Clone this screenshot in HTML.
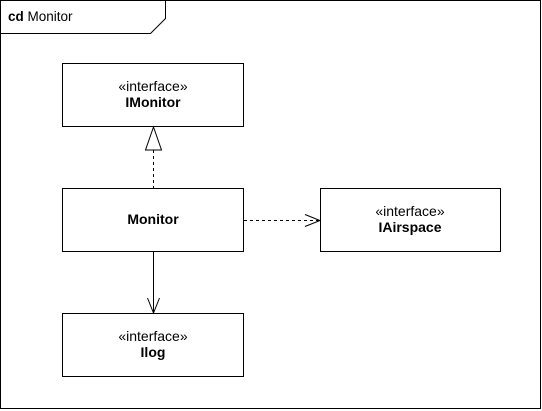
<!DOCTYPE html>
<html><head><meta charset="utf-8"><style>
html,body{margin:0;padding:0;background:#fff;}
svg{display:block;}
text{font-family:"Liberation Sans",Arial,sans-serif;font-size:14px;fill:#000;}
</style></head><body>
<svg width="542" height="411" viewBox="0 0 542 411" xmlns="http://www.w3.org/2000/svg">
<g fill="none" stroke="#000" stroke-width="1">
<rect x="0.5" y="0.5" width="540" height="408"/>
<path d="M0.5 33.5 H150.5 L165.5 18.5 V0.5"/>
<rect x="62.5" y="63.5" width="181" height="63"/>
<rect x="62.5" y="188.5" width="181" height="63"/>
<rect x="320.5" y="188.5" width="180" height="63"/>
<rect x="62.5" y="313.5" width="181" height="63"/>
<path d="M153.5 150 V188" stroke-dasharray="3,3"/>
<path d="M153.5 127 L161.5 150 H145.5 Z" fill="#fff"/>
<path d="M244 220.5 H319" stroke-dasharray="3,3"/>
<path d="M305 214.5 L320 220.5 L305 226.5"/>
<path d="M153.5 252 V312"/>
<path d="M147.5 298 L153.5 313 L159.5 298"/>
</g>
<text x="8" y="21" style="font-size:13.5px"><tspan font-weight="bold">cd</tspan> Monitor</text>
<g text-anchor="middle">
<text x="153" y="91">«interface»</text>
<text x="153" y="107" font-weight="bold">IMonitor</text>
<text x="153" y="224" font-weight="bold">Monitor</text>
<text x="410" y="216">«interface»</text>
<text x="410" y="232" font-weight="bold">IAirspace</text>
<text x="153" y="341">«interface»</text>
<text x="153" y="357" font-weight="bold">Ilog</text>
</g>
</svg>
</body></html>
